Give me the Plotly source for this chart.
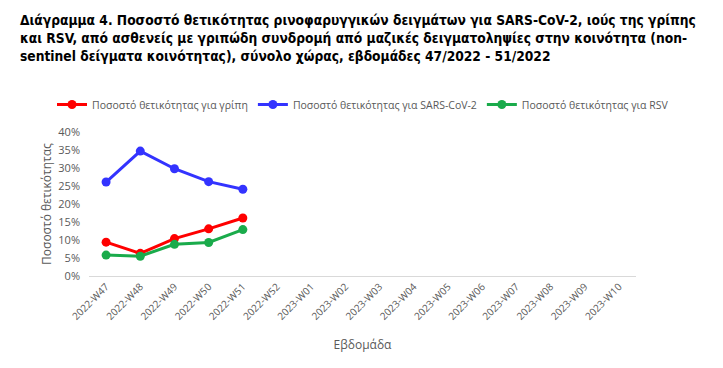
import plotly.graph_objects as go

weeks = ["2022-W47", "2022-W48", "2022-W49", "2022-W50", "2022-W51", "2022-W52",
         "2023-W01", "2023-W02", "2023-W03", "2023-W04", "2023-W05", "2023-W06",
         "2023-W07", "2023-W08", "2023-W09", "2023-W10"]
flu = [9.4, 6.3, 10.4, 13.1, 16.1]
sars = [26.1, 34.7, 29.8, 26.2, 24.1]
rsv = [5.8, 5.5, 8.8, 9.3, 12.9]

names = ["Ποσοστό θετικότητας για γρίπη",
         "Ποσοστό θετικότητας για SARS-CoV-2",
         "Ποσοστό θετικότητας για RSV"]
colors = ["#ff0000", "#3333ff", "#1aab4b"]

fig = go.Figure()
for name, vals, c in zip(names, [flu, sars, rsv], colors):
    fig.add_trace(go.Scatter(
        x=weeks[:len(vals)], y=vals, name=name, mode="lines+markers",
        line=dict(color=c, width=3), marker=dict(color=c, size=9),
    ))
fig.add_trace(go.Scatter(x=weeks, y=[None] * len(weeks), showlegend=False, hoverinfo="skip"))

T, B, L, R = 132, 92, 89, 87
ph = 368 - T - B
pw = 723 - L - R

fig.update_layout(
    width=723, height=368,
    paper_bgcolor="white", plot_bgcolor="white",
    margin=dict(l=L, r=R, t=T, b=B, autoexpand=False),
    font=dict(family="Open Sans, Liberation Sans, sans-serif", color="#595959"),
    title=dict(
        text="Διάγραμμα 4. Ποσοστό θετικότητας ρινοφαρυγγικών δειγμάτων για SARS-CoV-2, ιούς της γρίπης<br>"
             "και RSV, από ασθενείς με γριπώδη συνδρομή από μαζικές δειγματοληψίες στην κοινότητα (non-<br>"
             "sentinel δείγματα κοινότητας), σύνολο χώρας, εβδομάδες 47/2022 - 51/2022",
        x=20 / 723, xanchor="left", y=1 - 25 / 368, yanchor="top",
        font=dict(family="DejaVu Sans Condensed, Liberation Sans Narrow, sans-serif", size=13.7,
                  color="#000000", weight="bold"),
    ),
    legend=dict(orientation="h", x=(52 - L) / pw, xanchor="left",
                y=1 + (T - 90) / ph, yanchor="top",
                font=dict(size=10.5, color="#595959"), itemwidth=30,
                tracegroupgap=0),
    showlegend=True,
)

fig.update_xaxes(
    categoryorder="array", categoryarray=weeks, range=[-0.5, 15.5],
    tickangle=-45, tickfont=dict(size=10, color="#595959"),
    showline=True, linecolor="#d9d9d9", linewidth=1, showgrid=False, ticks="",
    title=dict(text="Εβδομάδα", font=dict(size=12, color="#595959"), standoff=18),
)
fig.update_yaxes(
    range=[0, 40], dtick=5, ticksuffix="%", showgrid=False, zeroline=False,
    tickfont=dict(size=11, color="#595959"), ticklabelstandoff=8,
    title=dict(text="Ποσοστό θετικότητας", font=dict(size=12, color="#595959"), standoff=4),
)

fig.write_html("out.html", config={"displayModeBar": False},
               post_script="document.body.style.margin='0';")
